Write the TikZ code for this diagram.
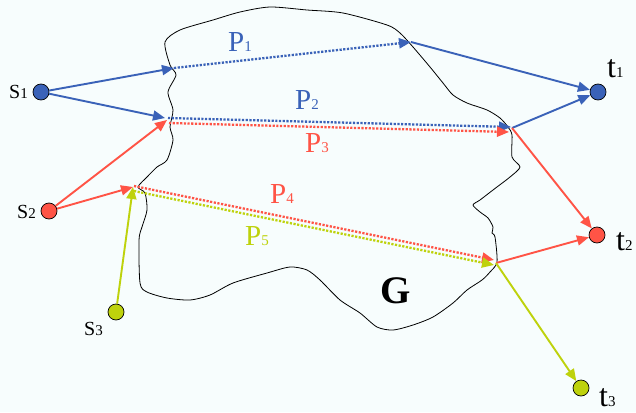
\documentclass[tikz,border=0pt]{standalone}
\usepackage{fontspec}
\setmainfont{Liberation Serif}
\usetikzlibrary{arrows.meta}
\definecolor{bg}{RGB}{247,253,253}
\definecolor{pblue}{RGB}{58,98,184}
\definecolor{pred}{RGB}{255,84,70}
\definecolor{pgreen}{RGB}{190,210,12}
\tikzset{
  vert/.style={circle,draw=black,line width=0.7pt,minimum size=16pt,inner sep=0pt},
  solidarr/.style={line width=1.9pt,-{Triangle[length=12pt,width=10pt]}},
  dotarr/.style={line width=2.3pt,dash pattern=on 2.2pt off 1.5pt,-{Triangle[length=12pt,width=10pt]}},
  plab/.style={anchor=base west,inner sep=0pt,font=\fontsize{29}{29}\selectfont},
  slab/.style={anchor=base west,inner sep=0pt,font=\fontsize{20}{20}\selectfont},
  tlab/.style={anchor=base west,inner sep=0pt,font=\fontsize{32}{32}\selectfont},
}
\newcommand{\sub}[1]{{\fontsize{15}{15}\selectfont #1}}
\begin{document}
\begin{tikzpicture}[x=1pt,y=-1pt]
\fill[bg] (0,0) rectangle (636,412);
\useasboundingbox (0,0) rectangle (636,412);
% blob G
\draw[black,line width=0.8pt] plot[smooth cycle,tension=0.45] coordinates {
(165,42) (180,30) (213,20) (240,12) (270,7) (307,10) (343,13) (387,25) (400,33) (413,47)
(430,67) (443,83) (453,95) (467,103) (487,110) (500,118) (508,127) (512,135) (512,157)
(520,167) (510,177) (493,190) (480,200) (473,205) (480,212) (488,218) (493,227) (492,233)
(495,237) (497,262) (490,272) (482,280) (467,290) (453,303) (433,317) (413,325) (393,330)
(377,327) (360,313) (340,300) (320,280) (307,270) (290,267) (267,273) (233,283) (210,295)
(190,300) (167,298) (147,292) (140,283) (139,240) (142,227) (147,210) (145,193) (138,187)
(147,177) (157,167) (167,160) (173,140) (170,127) (173,110) (168,92) (176,75) (170,65)};
\node[anchor=base west,inner sep=0pt,font=\fontsize{39}{39}\selectfont\bfseries] (G) at (380,303) {G};
% vertices
\node[vert,fill=pblue] (s1) at (41,92) {};
\node[vert,fill=pred] (s2) at (49,211) {};
\node[vert,fill=pgreen] (s3) at (116,312) {};
\node[vert,fill=pblue] (t1) at (598,92) {};
\node[vert,fill=pred] (t2) at (597,235) {};
\node[vert,fill=pgreen] (t3) at (581,388) {};
% vertex labels
\node[slab] (ls1) at (9,98) {S\sub{1}};
\node[slab] (ls2) at (17,218) {S\sub{2}};
\node[slab] (ls3) at (84,335) {S\sub{3}};
\node[tlab] (lt1) at (607,77) {t\sub{1}};
\node[tlab] (lt2) at (616,250) {t\sub{2}};
\node[tlab] (lt3) at (599,406) {t\sub{3}};
% junction points
\coordinate (A) at (174,68);
\coordinate (B) at (411,42);
\coordinate (Cs) at (165,118);
\coordinate (Cb) at (168,118);
\coordinate (Cr) at (169,123);
\coordinate (Cx) at (167,120);
\coordinate (Db) at (511,127);
\coordinate (Dr) at (509,132);
\coordinate (D) at (512,128);
\coordinate (E) at (133,187);
\coordinate (Er) at (134,186);
\coordinate (Eg) at (134,191);
\coordinate (Fr) at (494,260);
\coordinate (Fg) at (494,265);
\coordinate (F) at (496,263);
% P1
\draw[pblue,solidarr] (s1) -- (A);
\draw[pblue,dotarr] (A) -- (B);
\draw[pblue,solidarr] (B) -- (t1);
% P2 / P3
\draw[pblue,solidarr] (s1) -- (Cs);
\draw[pred,solidarr] (s2) -- (Cx);
\draw[pblue,dotarr] (Cb) -- (Db);
\draw[pred,dotarr] (Cr) -- (Dr);
\draw[pblue,solidarr] (D) -- (t1);
\draw[pred,solidarr] (D) -- (t2);
% P4 / P5
\draw[pred,solidarr] (s2) -- (E);
\draw[pgreen,solidarr] (s3) -- (E);
\draw[pred,dotarr] (Er) -- (Fr);
\draw[pgreen,dotarr] (Eg) -- (Fg);
\draw[pred,solidarr] (F) -- (t2);
\draw[pgreen,solidarr] (F) -- (t3);
% path labels
\node[plab,text=pblue] (P1) at (228,52) {P\sub{1}};
\node[plab,text=pblue] (P2) at (295,109) {P\sub{2}};
\node[plab,text=pred] (P3) at (305,152) {P\sub{3}};
\node[plab,text=pred] (P4) at (270,203) {P\sub{4}};
\node[plab,text=pgreen] (P5) at (245,245) {P\sub{5}};
\end{tikzpicture}
\end{document}
